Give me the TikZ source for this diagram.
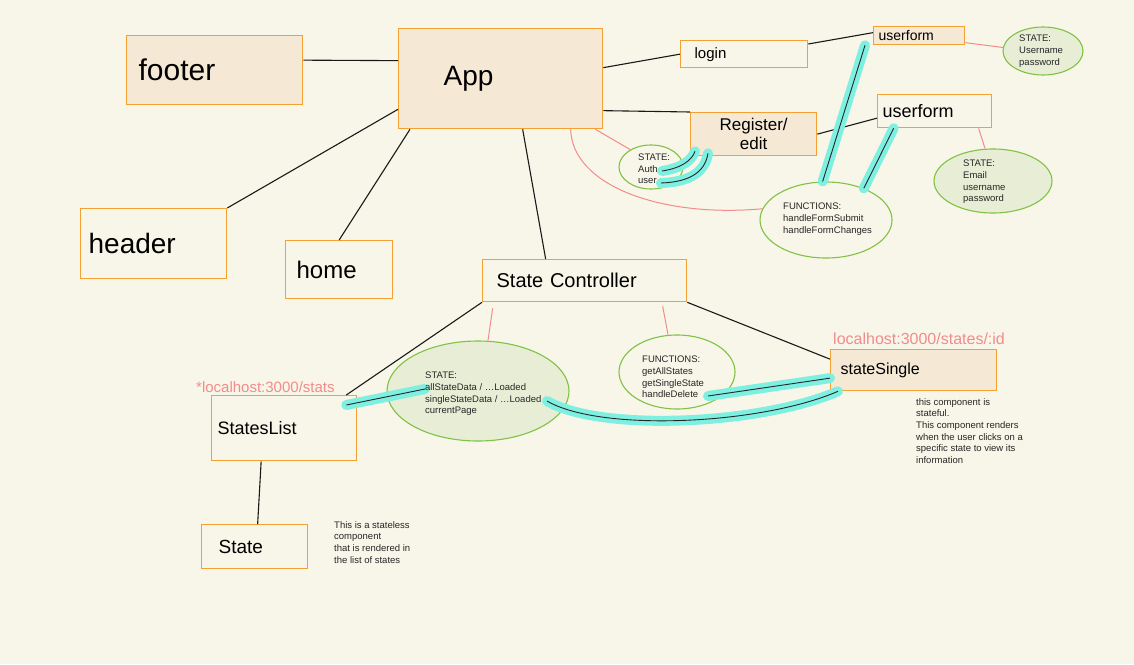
\documentclass[tikz,border=0pt]{standalone}
\usepackage{fontspec}
\setmainfont{Liberation Sans}
\usetikzlibrary{shapes.geometric}
\definecolor{sketchBg}{RGB}{248,246,232}
\definecolor{sketchOrange}{RGB}{245,160,50}
\definecolor{sketchBeige}{RGB}{245,232,212}
\definecolor{sketchGreen}{RGB}{128,194,70}
\definecolor{sketchMint}{RGB}{232,238,214}
\definecolor{sketchPink}{RGB}{242,140,140}
\definecolor{sketchCyan}{RGB}{125,240,225}

\tikzset{
    compbox/.style={draw=sketchOrange, line width=1.3pt, inner ysep=0pt, anchor=north west, align=left},
    stateoval/.style={ellipse, draw=sketchGreen, line width=1.1pt, inner sep=0pt},
    notetxt/.style={font=\fontsize{9.5}{11.7}\selectfont, align=left, inner sep=0pt, text=black!85},
    urltxt/.style={font=\fontsize{15}{16}\selectfont, text=sketchPink, inner sep=0pt, anchor=base west},
    link/.style={draw=black!90, line width=1.1pt},
    memoline/.style={draw=sketchPink, line width=1pt},
    hilite/.style={draw=black!85, line width=0.9pt, preaction={draw=sketchCyan, line width=10pt, line cap=round}}
}

\begin{document}
\begin{tikzpicture}[x=1pt, y=-1pt]
            \fill[sketchBg] (0,0) rectangle (1134,664);
            \useasboundingbox (0,0) rectangle (1134,664);
            \node[stateoval, fill=sketchMint, minimum width=80, minimum height=48] (usrstate) at (1043,51) {};
            \node[stateoval, minimum width=64, minimum height=44] (authstate) at (651,167) {};
            \node[stateoval, minimum width=132, minimum height=76] (fnform) at (826,220) {};
            \node[stateoval, fill=sketchMint, minimum width=118, minimum height=64] (emstate) at (993,181) {};
            \node[stateoval, fill=sketchMint, minimum width=182, minimum height=100] (scstate) at (478,391) {};
            \node[stateoval, minimum width=116, minimum height=74] (fnsc) at (677,372) {};
            \node[compbox, fill=sketchBeige, text width=152, inner xsep=12, minimum height=69, font=\fontsize{30}{32}\selectfont] (footer) at (126,35) {footer};
            \node[compbox, fill=sketchBeige, text width=114, inner xsep=45, minimum height=100, font=\fontsize{28}{30}\selectfont] (app) at (398,28) {App};
            \node[compbox, text width=130, inner xsep=8, minimum height=70, font=\fontsize{28}{30}\selectfont] (header) at (80,208) {header};
            \node[compbox, text width=85, inner xsep=11, minimum height=58, font=\fontsize{24}{26}\selectfont] (home) at (285,240) {home};
            \node[compbox, text width=176, inner xsep=14, minimum height=42, font=\fontsize{20}{22}\selectfont] (sc) at (482,259) {State Controller};
            \node[compbox, text width=133, inner xsep=6, minimum height=65, font=\fontsize{18}{20}\selectfont] (stateslist) at (211,395) {StatesList};
            \node[compbox, text width=72, inner xsep=17, minimum height=44, font=\fontsize{19}{21}\selectfont] (state) at (201,524) {State};
            \node[compbox, text width=99, inner xsep=14, minimum height=27, font=\fontsize{15}{17}\selectfont] (login) at (680,40) {login};
            \node[compbox, fill=sketchBeige, text width=81, inner xsep=5, minimum height=18, font=\fontsize{14}{15}\selectfont] (uftop) at (873,26) {userform};
            \node[compbox, fill=sketchBeige, text width=110, inner xsep=8, minimum height=43, align=center, font=\fontsize{17}{19}\selectfont] (register) at (690,112) {Register/\\edit};
            \node[compbox, text width=104, inner xsep=5, minimum height=33, font=\fontsize{18}{20}\selectfont] (ufreg) at (877,94) {userform};
            \node[compbox, fill=sketchBeige, text width=146, inner xsep=10, minimum height=41, font=\fontsize{16}{18}\selectfont] (single) at (830,349) {stateSingle};
            \coordinate (authend) at (662,171);
            \coordinate (userend) at (661,183);
            \coordinate (alldata) at (425,389);
            \coordinate (singledata) at (547,401);
            \coordinate (deletefn) at (708,396);
            \draw[link] ([yshift=10]footer.east) -- ([yshift=18]app.west);
            \draw[link] ([yshift=20]app.south west) -- (header.north east);
            \draw[link] ([xshift=12]app.south west) -- (home.north);
            \draw[link] ([xshift=22]app.south) -- ([xshift=-39]sc.north);
            \draw[link] ([yshift=11]app.east) -- (login.west);
            \draw[link] ([yshift=-32]app.east) -- (register.north west);
            \draw[link] ([yshift=-4]login.north east) -- ([yshift=3]uftop.west);
            \draw[link] (register.east) -- ([yshift=-7]ufreg.west);
            \draw[link] (sc.south west) -- ([xshift=-11]stateslist.north east);
            \draw[link] (sc.south east) -- ([yshift=11]single.west);
            \draw[link] ([xshift=-23]stateslist.south) -- ([xshift=3]state.north);
            \draw[memoline] ([yshift=-7]uftop.east) -- (usrstate.175);
            \draw[memoline] ([xshift=44]ufreg.south) -- ([xshift=-8]emstate.north);
            \draw[memoline] ([xshift=70]app.south) .. controls (572,185) and (660,218) .. (fnform.170);
            \draw[memoline] ([xshift=-8]app.south east) -- (authstate.140);
            \draw[memoline] ([xshift=-92,yshift=-6]sc.south) -- ([xshift=10]scstate.north);
            \draw[memoline] ([xshift=78,yshift=-4]sc.south) -- ([xshift=-9]fnsc.north);
            \draw[hilite] (fnform.95) -- ([xshift=-8]uftop.south west);
            \draw[hilite] (fnform.40) -- ([xshift=-41]ufreg.south);
            \draw[hilite] (authend) .. controls (682,168) and (692,160) .. ([xshift=5,yshift=5]register.south west);
            \draw[hilite] (userend) .. controls (690,182) and (705,172) .. ([xshift=18,yshift=3]register.south west);
            \draw[hilite] ([xshift=-11,yshift=-10]stateslist.north east) -- (alldata);
            \draw[hilite] (singledata) .. controls (600,432) and (760,425) .. ([xshift=8]single.south west);
            \draw[hilite] (deletefn) -- ([yshift=-8]single.west);
            \node[notetxt, anchor=west] (usrstate-txt) at (1019,51) {STATE:\\Username\\password};
            \node[notetxt, anchor=west] (authstate-txt) at (638,169) {STATE:\\Auth\\user};
            \node[notetxt, anchor=west] (fnform-txt) at (783,219) {FUNCTIONS:\\handleFormSubmit\\handleFormChanges};
            \node[notetxt, anchor=west] (emstate-txt) at (963,182) {STATE:\\Email\\username\\password};
            \node[notetxt, anchor=west] (scstate-txt) at (425,394) {STATE:\\allStateData / …Loaded\\singleStateData / …Loaded\\currentPage};
            \node[notetxt, anchor=west] (fnsc-txt) at (642,377) {FUNCTIONS:\\getAllStates\\getSingleState\\handleDelete};
            \node[notetxt, anchor=north west] (singlenote) at (916,398) {this component is\\stateful.\\This component renders\\when the user clicks on a\\specific state to view its\\information};
            \node[notetxt, anchor=north west] (statenote) at (334,521) {This is a stateless\\component\\that is rendered in\\the list of states};
            \node[urltxt] (listurl) at (196,392) {*localhost:3000/stats};
            \node[urltxt, font=\fontsize{16}{17}\selectfont] (singleurl) at (833,344) {localhost:3000/states/:id};
        \end{tikzpicture}
\end{document}
